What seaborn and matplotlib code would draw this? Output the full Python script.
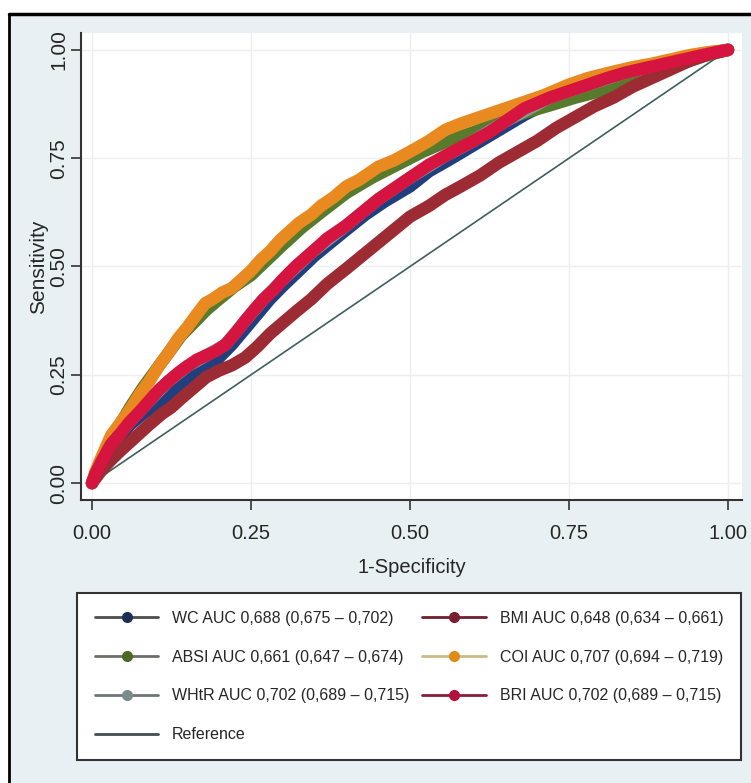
import matplotlib
matplotlib.use('Agg')
import matplotlib.pyplot as plt
from matplotlib.lines import Line2D
from matplotlib.patches import Rectangle
import pandas as pd
import seaborn as sns

# ROC curves (1-specificity, sensitivity)
coi_fpr = [0, 0.005, 0.015, 0.03, 0.045, 0.06, 0.075, 0.09, 0.105, 0.12, 0.136, 0.15,
           0.165, 0.178, 0.19, 0.205, 0.22, 0.235, 0.25, 0.265, 0.28, 0.295, 0.31,
           0.325, 0.345, 0.36, 0.38, 0.4, 0.42, 0.45, 0.475, 0.5, 0.53, 0.555, 0.58,
           0.61, 0.64, 0.68, 0.71, 0.75, 0.78, 0.815, 0.85, 0.88, 0.91, 0.94, 0.97, 1.0]
coi_sens = [0, 0.025, 0.06, 0.11, 0.14, 0.17, 0.205, 0.235, 0.27, 0.30, 0.335, 0.36,
            0.39, 0.415, 0.425, 0.44, 0.45, 0.47, 0.49, 0.515, 0.535, 0.56, 0.58,
            0.60, 0.62, 0.64, 0.66, 0.685, 0.70, 0.73, 0.745, 0.765, 0.79, 0.815, 0.83,
            0.845, 0.86, 0.88, 0.895, 0.92, 0.935, 0.948, 0.96, 0.968, 0.978, 0.988, 0.995, 1.0]

bri_fpr = [0, 0.005, 0.015, 0.03, 0.045, 0.058, 0.075, 0.09, 0.105, 0.12, 0.136, 0.15,
           0.165, 0.18, 0.195, 0.21, 0.225, 0.241, 0.255, 0.27, 0.285, 0.3, 0.32,
           0.345, 0.37, 0.4, 0.425, 0.45, 0.475, 0.5, 0.53, 0.555, 0.58, 0.6, 0.625,
           0.65, 0.68, 0.72, 0.75, 0.78, 0.81, 0.84, 0.87, 0.9, 0.93, 0.96, 0.985, 1.0]
bri_sens = [0, 0.02, 0.05, 0.09, 0.115, 0.139, 0.165, 0.19, 0.215, 0.235, 0.255, 0.27,
            0.285, 0.295, 0.305, 0.32, 0.345, 0.375, 0.40, 0.425, 0.445, 0.47, 0.50,
            0.532, 0.565, 0.595, 0.625, 0.655, 0.68, 0.705, 0.735, 0.755, 0.775, 0.79,
            0.81, 0.835, 0.865, 0.89, 0.905, 0.92, 0.935, 0.948, 0.958, 0.968, 0.978,
            0.988, 0.996, 1.0]

# WHtR has the same AUC and CI as BRI; its curve is hidden under BRI
whtr_fpr = [0, 0.015, 0.03, 0.058, 0.09, 0.12, 0.15, 0.18, 0.21, 0.241, 0.27, 0.3,
            0.345, 0.4, 0.45, 0.5, 0.555, 0.6, 0.65, 0.72, 0.78, 0.84, 0.9, 0.96, 1.0]
whtr_sens = [0, 0.05, 0.09, 0.139, 0.19, 0.235, 0.27, 0.295, 0.32, 0.375, 0.425,
             0.47, 0.532, 0.595, 0.655, 0.705, 0.755, 0.79, 0.835, 0.89, 0.92, 0.948,
             0.968, 0.988, 1.0]

wc_fpr = [0, 0.01, 0.025, 0.04, 0.06, 0.08, 0.1, 0.12, 0.14, 0.16, 0.18, 0.2, 0.22,
          0.24, 0.26, 0.28, 0.3, 0.325, 0.35, 0.375, 0.4, 0.43, 0.46, 0.5, 0.53, 0.56,
          0.6, 0.64, 0.68, 0.72, 0.76, 0.8, 0.84, 0.88, 0.92, 0.96, 1.0]
wc_sens = [0, 0.03, 0.07, 0.1, 0.135, 0.16, 0.18, 0.2, 0.225, 0.25, 0.27, 0.29, 0.32,
           0.355, 0.39, 0.425, 0.455, 0.49, 0.525, 0.555, 0.585, 0.62, 0.65, 0.685,
           0.72, 0.745, 0.78, 0.815, 0.85, 0.88, 0.905, 0.93, 0.948, 0.964, 0.978,
           0.99, 1.0]

absi_fpr = [0, 0.01, 0.025, 0.04, 0.06, 0.08, 0.1, 0.12, 0.14, 0.16, 0.18, 0.2, 0.225,
            0.25, 0.275, 0.3, 0.33, 0.36, 0.4, 0.44, 0.48, 0.52, 0.56, 0.6, 0.64, 0.68,
            0.72, 0.76, 0.8, 0.84, 0.88, 0.92, 0.96, 1.0]
absi_sens = [0, 0.035, 0.08, 0.125, 0.175, 0.22, 0.26, 0.3, 0.34, 0.37, 0.4, 0.425,
             0.455, 0.48, 0.515, 0.55, 0.59, 0.625, 0.67, 0.705, 0.735, 0.765, 0.79,
             0.81, 0.835, 0.855, 0.872, 0.89, 0.905, 0.925, 0.945, 0.965, 0.985, 1.0]

bmi_fpr = [0, 0.01, 0.02, 0.031, 0.045, 0.06, 0.075, 0.09, 0.11, 0.125, 0.14, 0.16,
           0.18, 0.2, 0.22, 0.241, 0.26, 0.28, 0.3, 0.32, 0.345, 0.37, 0.4, 0.425,
           0.45, 0.475, 0.5, 0.53, 0.555, 0.58, 0.61, 0.64, 0.67, 0.7, 0.73, 0.76,
           0.79, 0.82, 0.85, 0.88, 0.91, 0.94, 0.97, 1.0]
bmi_sens = [0, 0.02, 0.038, 0.055, 0.075, 0.095, 0.115, 0.135, 0.16, 0.175, 0.195,
            0.22, 0.245, 0.26, 0.272, 0.29, 0.315, 0.345, 0.37, 0.395, 0.425, 0.46,
            0.495, 0.525, 0.555, 0.585, 0.615, 0.64, 0.665, 0.685, 0.71, 0.74, 0.765,
            0.79, 0.82, 0.845, 0.87, 0.89, 0.915, 0.935, 0.955, 0.975, 0.99, 1.0]

labels = {
    'WC': 'WC AUC 0,688 (0,675 – 0,702)',
    'ABSI': 'ABSI AUC 0,661 (0,647 – 0,674)',
    'WHtR': 'WHtR AUC 0,702 (0,689 – 0,715)',
    'BMI': 'BMI AUC 0,648 (0,634 – 0,661)',
    'COI': 'COI AUC 0,707 (0,694 – 0,719)',
    'BRI': 'BRI AUC 0,702 (0,689 – 0,715)',
}
ticks = [0, 0.25, 0.5, 0.75, 1.0]
tick_labels = ['0.00', '0.25', '0.50', '0.75', '1.00']

curves = {'WC': (wc_fpr, wc_sens), 'ABSI': (absi_fpr, absi_sens),
          'WHtR': (whtr_fpr, whtr_sens), 'BMI': (bmi_fpr, bmi_sens),
          'COI': (coi_fpr, coi_sens), 'BRI': (bri_fpr, bri_sens)}
rows = []
for name, (fx, sy) in curves.items():
    for a, b in zip(fx, sy):
        rows.append({'fpr': a, 'sens': b, 'measure': name})
df = pd.DataFrame(rows)

curve_colors = {'WC': '#1f3f7e', 'ABSI': '#587a2c', 'WHtR': '#8a9896',
                'BMI': '#9c2b33', 'COI': '#e88a20', 'BRI': '#d5143f'}
# legend: (line colour, marker colour)
leg_colors = {'WC': ('#4d4d4d', '#1b2f55'), 'ABSI': ('#6b6f66', '#4b6a28'),
              'WHtR': ('#6f7675', '#7a8c8a'), 'BMI': ('#6e2030', '#7a1f30'),
              'COI': ('#cdbb86', '#e08a1a'), 'BRI': ('#8a1b3a', '#b3103a')}
order = ['WC', 'ABSI', 'WHtR', 'BMI', 'COI', 'BRI']

sns.set_theme(style='white')
plt.rcParams['font.family'] = ['Liberation Sans', 'DejaVu Sans']

fig = plt.figure(figsize=(7.51, 7.83), dpi=100)
fig.patch.set_facecolor('#e9f0f3')
W, H = 751.0, 783.0
ax = fig.add_axes([81 / W, 1 - 500 / H, (742 - 81) / W, (500 - 33) / H])
ax.set_facecolor('white')

ax.plot([0, 1], [0, 1], color='#3e5f5b', lw=1.2, zorder=1)
sns.lineplot(data=df, x='fpr', y='sens', hue='measure', hue_order=order,
             palette=curve_colors, sort=False, estimator=None, linewidth=9,
             legend=False, ax=ax, zorder=2)
for ln in ax.lines[1:]:
    ln.set_solid_capstyle('round')
    ln.set_solid_joinstyle('round')

ax.set_xlim(-0.0173, 1.022)
ax.set_ylim(-0.039, 1.039)
ax.set_xticks(ticks)
ax.set_xticklabels(tick_labels, fontsize=14.5)
ax.set_yticks(ticks)
ax.set_yticklabels(tick_labels, fontsize=15, rotation=90, va='center')
ax.grid(True, color='#eceff0', lw=1)
ax.tick_params(axis='both', direction='out', length=7, width=1.2, color='#333333',
               left=True, bottom=True)
ax.tick_params(axis='x', pad=10)
ax.tick_params(axis='y', pad=2)
for s in ['top', 'right']:
    ax.spines[s].set_visible(False)
for s in ['left', 'bottom']:
    ax.spines[s].set_color('#333333')
    ax.spines[s].set_linewidth(1.5)
ax.set_xlabel('1-Specificity', fontsize=14.5, labelpad=11)
ax.set_ylabel('Sensitivity', fontsize=15, labelpad=1)

# legend
handles = []
for name in ['WC', 'ABSI', 'WHtR']:
    lc, mc = leg_colors[name]
    handles.append(Line2D([], [], color=lc, lw=2, marker='o', markersize=7,
                          markerfacecolor=mc, markeredgecolor=mc, label=labels[name]))
handles.append(Line2D([], [], color='#3e4f4d', lw=2, label='Reference'))
for name in ['BMI', 'COI', 'BRI']:
    lc, mc = leg_colors[name]
    handles.append(Line2D([], [], color=lc, lw=2, marker='o', markersize=7,
                          markerfacecolor=mc, markeredgecolor=mc, label=labels[name]))
leg = fig.legend(handles=handles, ncol=2, loc='upper left',
                 bbox_to_anchor=(77 / W, 1 - 593 / H), prop={'size': 11.5},
                 handlelength=4.0, handletextpad=0.85, labelspacing=1.5,
                 columnspacing=0.8, borderpad=1.1, frameon=True, fancybox=False,
                 framealpha=1, borderaxespad=0)
leg.get_frame().set_edgecolor('#333333')
leg.get_frame().set_linewidth(1.5)
leg.get_frame().set_facecolor('white')

# outer frame like the source screenshot
fig.patches.append(Rectangle((0, 1 - 13 / H), 1, 13 / H, transform=fig.transFigure,
                             facecolor='white', edgecolor='none', zorder=0))
fig.patches.append(Rectangle((0, 0), 9 / W, 1, transform=fig.transFigure,
                             facecolor='white', edgecolor='none', zorder=0))
fig.lines.append(Line2D([9 / W, 1], [1 - 14 / H, 1 - 14 / H], transform=fig.transFigure,
                        color='black', lw=2.5))
fig.lines.append(Line2D([9 / W, 9 / W], [0, 1 - 14 / H], transform=fig.transFigure,
                        color='black', lw=2))

fig.savefig('out.png', dpi=100, facecolor=fig.get_facecolor())
